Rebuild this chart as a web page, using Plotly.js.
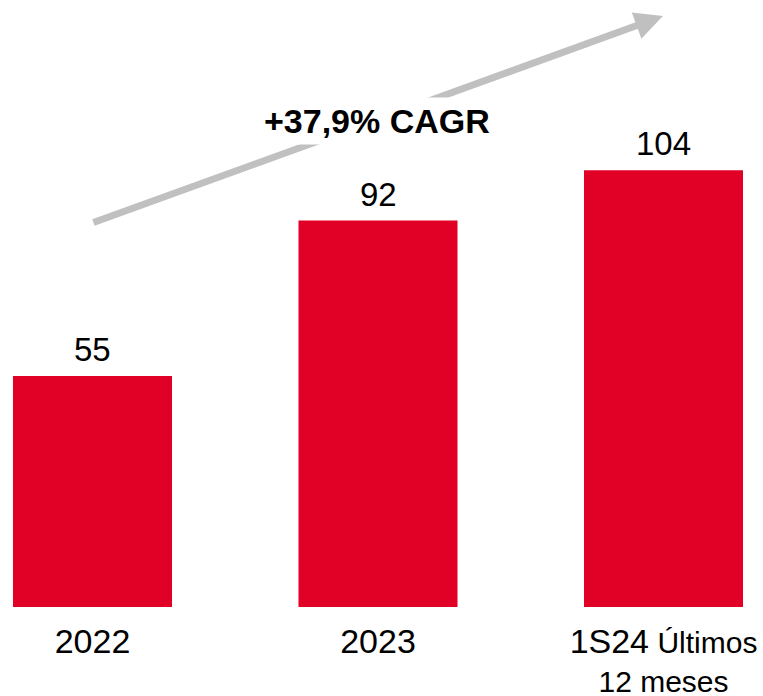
<!DOCTYPE html>
<html>
<head>
<meta charset="utf-8">
<script src="https://cdn.plot.ly/plotly-3.0.1.min.js"></script>
<style>html,body{margin:0;padding:0;background:#fff;}#chart{width:763px;height:696px;}</style>
</head>
<body>
<div id="chart"></div>
<script>
var categories = ["2022", "2023", "1S24 Últimos 12 meses"];
var tickLabels = [
  "<span style='font-size:34px'>2022</span>",
  "<span style='font-size:34px'>2023</span>",
  "<span style='font-size:34px'>1S24</span> <span style='font-size:30px'>Últimos</span><br><span style='font-size:30px'>12 meses</span>"
];
var values = [55, 92, 104];
var cagrText = "+37,9% CAGR";

var positions = categories.map(function (c, i) { return i; });
var font = "Arial, 'Liberation Sans', sans-serif";

var trace = {
  type: "bar",
  x: positions,
  y: values,
  width: 0.557,
  marker: { color: "#E10026" },
  hoverinfo: "skip"
};

var valueAnnotations = values.map(function (v, i) {
  return {
    x: positions[i], y: v, xref: "x", yref: "y",
    text: String(v), showarrow: false,
    yanchor: "bottom", yshift: 6,
    font: { family: font, size: 33, color: "#000" }
  };
});

var layout = {
  width: 763,
  height: 696,
  margin: { l: 0, r: 0, t: 19, b: 89 },
  paper_bgcolor: "#fff",
  plot_bgcolor: "#fff",
  showlegend: false,
  xaxis: {
    range: [-0.324, 2.3485],
    tickvals: positions,
    ticktext: tickLabels,
    tickfont: { family: font, size: 30, color: "#000" },
    ticklabelstandoff: 15,
    showgrid: false,
    zeroline: false,
    showline: false,
    ticks: "",
    fixedrange: true
  },
  yaxis: {
    range: [0, 140],
    visible: false,
    fixedrange: true
  },
  annotations: [
    {
      x: 1.998, y: 140.7, xref: "x", yref: "y",
      ax: -0.002, ay: 91.4, axref: "x", ayref: "y",
      showarrow: true, arrowhead: 2, arrowsize: 0.8, arrowwidth: 7,
      arrowcolor: "#C0C0C0", text: ""
    },
    {
      x: 0.998, y: 115.7, xref: "x", yref: "y",
      text: "<b>" + cagrText + "</b>",
      showarrow: false,
      font: { family: font, size: 34, color: "#000" },
      bgcolor: "#fff",
      borderpad: 4
    }
  ].concat(valueAnnotations)
};

Plotly.newPlot("chart", [trace], layout, { displayModeBar: false, staticPlot: true });
</script>
</body>
</html>
